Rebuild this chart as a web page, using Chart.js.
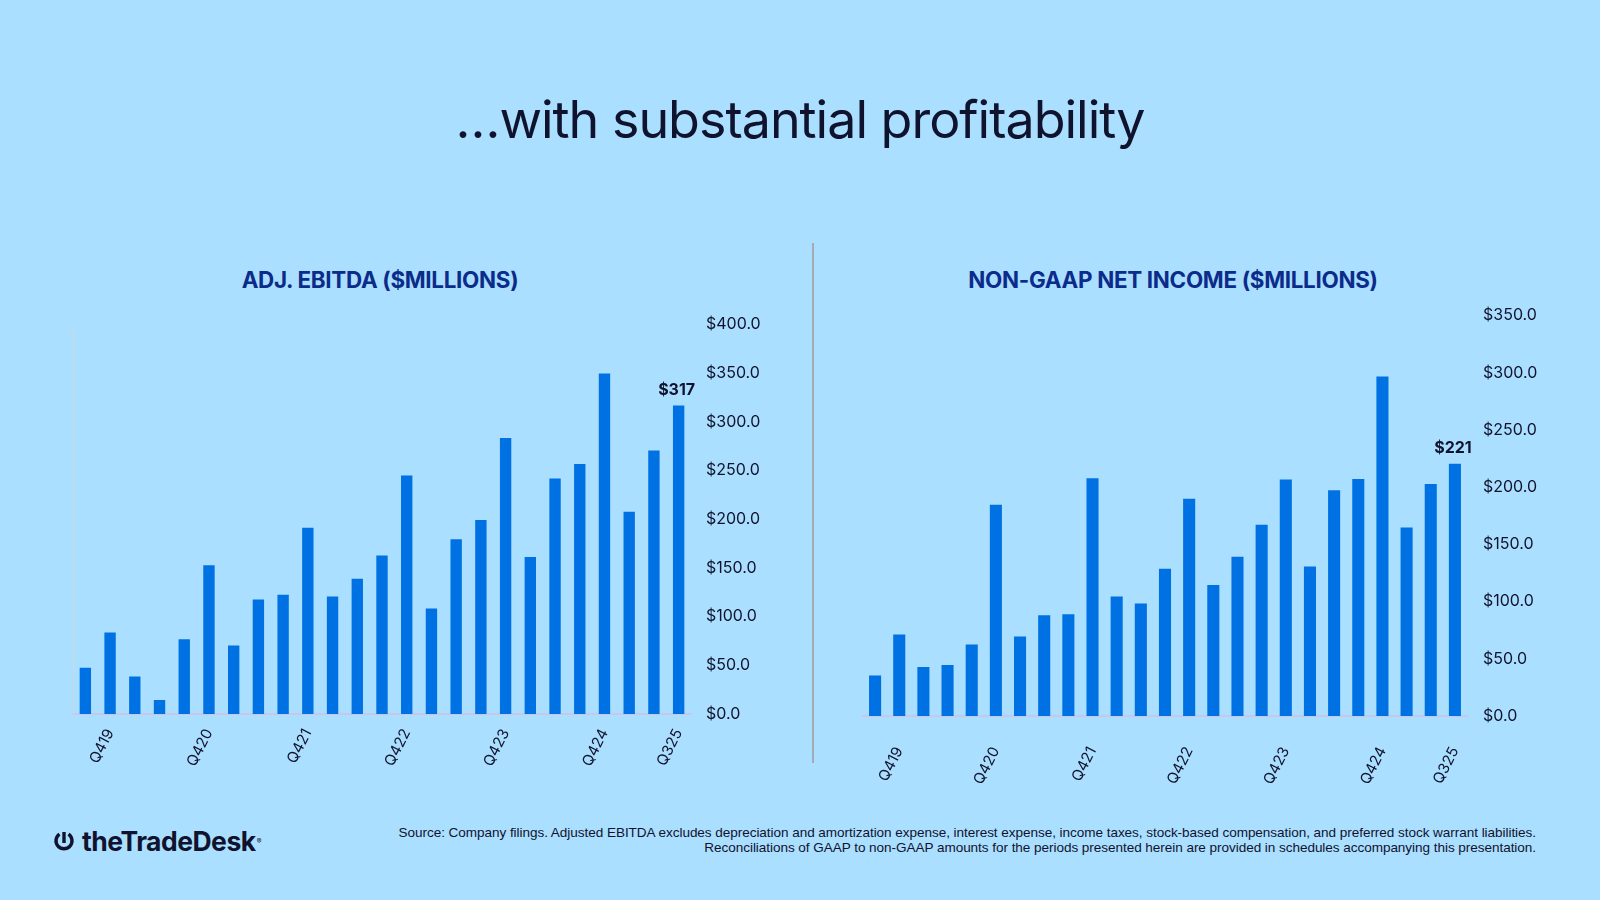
<!DOCTYPE html>
<html>
<head>
<meta charset="utf-8">
<script src="https://cdn.jsdelivr.net/npm/chart.js@4.4.1/dist/chart.umd.min.js"></script>
<style>
  html, body { margin: 0; padding: 0; }
  body { width: 1600px; height: 900px; background: #abdfff; position: relative; overflow: hidden; font-family: Inter, "Noto Sans", sans-serif; }
  .title { position: absolute; left: 0; width: 1600px; top: 88px; text-align: center; font-size: 52px; font-weight: 400; color: #10132e; letter-spacing: -1px; }
  .sub { position: absolute; top: 266px; font-size: 22.4px; font-weight: 700; color: #0b2c8a; text-align: center; width: 600px; letter-spacing: -0.3px; }
  .divider { position: absolute; left: 812px; top: 243px; width: 2px; height: 520px; background: #a3acb6; }
  .wrap { position: absolute; }
  .footer { position: absolute; right: 64px; top: 825px; text-align: right; font-family: "Liberation Sans Narrow", "Liberation Sans", Arial, sans-serif; font-size: 13.55px; line-height: 15px; color: #10132e; letter-spacing: -0.05px; }
  .logo { position: absolute; left: 53px; top: 826px; height: 30px; display: flex; align-items: center; }
  .logo span { font-size: 26.5px; font-weight: 700; color: #10132e; letter-spacing: -0.5px; margin-left: 7px; }
  .logo sup { font-size: 7px; vertical-align: super; margin-left: 1px; color:#10132e; }
</style>
</head>
<body>
<div class="title">…with substantial profitability</div>
<div class="sub" style="left:80px;">ADJ. EBITDA ($MILLIONS)</div>
<div class="sub" style="left:873px;">NON-GAAP NET INCOME ($MILLIONS)</div>
<div class="divider"></div>

<div class="wrap" style="left:0px; top:300px; width:800px; height:500px;"><canvas id="c1"></canvas></div>
<div class="wrap" style="left:800px; top:290px; width:800px; height:510px;"><canvas id="c2"></canvas></div>

<div class="logo">
  <svg width="22" height="22" viewBox="0 0 22 22">
    <path d="M6.5 4.2 A8 8 0 1 0 15.5 4.2" fill="none" stroke="#10132e" stroke-width="3.4"/>
    <line x1="11" y1="2" x2="11" y2="13" stroke="#10132e" stroke-width="3.4"/>
  </svg>
  <span>theTradeDesk</span><sup>®</sup>
</div>

<div class="footer">Source: Company filings. Adjusted EBITDA excludes depreciation and amortization expense, interest expense, income taxes, stock-based compensation, and preferred stock warrant liabilities.<br>Reconciliations of GAAP to non-GAAP amounts for the periods presented herein are provided in schedules accompanying this presentation.</div>

<script>
const quarters = ["Q319","Q419","Q120","Q220","Q320","Q420","Q121","Q221","Q321","Q421","Q122","Q222","Q322","Q422","Q123","Q223","Q323","Q423","Q124","Q224","Q324","Q424","Q125","Q225","Q325"];
const shownLabels = ["Q419","Q420","Q421","Q422","Q423","Q424","Q325"];
const ebitda = [47.4, 83.6, 38.6, 14.3, 76.8, 152.8, 70.3, 117.7, 122.5, 191.4, 120.8, 138.9, 162.7, 245.0, 108.5, 179.5, 199.2, 283.5, 161.4, 241.9, 256.9, 349.7, 207.8, 270.6, 317.0];
const netIncome = [35.4, 71.3, 42.9, 44.6, 62.4, 184.6, 69.6, 88.0, 88.9, 207.9, 104.4, 98.4, 128.8, 189.8, 114.5, 139.2, 167.1, 206.8, 130.6, 197.3, 207.1, 296.8, 164.8, 202.8, 220.6];
const ebitdaLabel = "$317";
const netIncomeLabel = "$221";
const ebitdaMax = 400;
const netIncomeMax = 350;

const textColor = "#10132e";
const barColor = "#0071e3";

const lastLabelPlugin = {
  id: "lastLabel",
  afterDatasetsDraw(chart, args, opts) {
    const meta = chart.getDatasetMeta(0);
    const el = meta.data[meta.data.length - 1];
    const ctx = chart.ctx;
    ctx.save();
    ctx.font = "700 16px Inter, 'Noto Sans', sans-serif";
    ctx.fillStyle = textColor;
    ctx.textAlign = "center";
    ctx.textBaseline = "bottom";
    ctx.fillText(opts.text, el.x - (opts.dx || 0), el.y - 7);
    ctx.restore();
  }
};

function makeChart(id, values, label, max, g) {
  const scales = {
    x: {
      grid: { display: false, drawTicks: false },
      border: { display: true, color: "#c9c6ee", width: 2 },
      ticks: {
        autoSkip: false,
        maxRotation: 63, minRotation: 63,
        padding: g.xPad,
        color: textColor,
        font: { family: "Inter, 'Noto Sans', sans-serif", size: 15 },
        callback: function(v) { const l = this.getLabelForValue(v); return shownLabels.includes(l) ? l : ""; }
      },
      afterFit(s) { s.height = g.xH; }
    },
    y: {
      position: "right",
      min: 0, max: max,
      grid: { display: false, drawTicks: false },
      border: { display: false },
      ticks: {
        stepSize: 50,
        padding: g.yPad,
        color: textColor,
        font: { family: "Inter, 'Noto Sans', sans-serif", size: 16 },
        callback: v => "$" + Number(v).toFixed(1)
      },
      afterFit(s) { s.width = g.yW; }
    }
  };
  if (g.leftLine) {
    scales.y2 = {
      position: "left",
      min: 0, max: max,
      grid: { display: false, drawTicks: false },
      border: { display: true, color: "#cfd6dc", width: 1 },
      ticks: { display: false },
      afterFit(s) { s.width = 0; }
    };
  }
  return new Chart(document.getElementById(id), {
    type: "bar",
    data: {
      labels: quarters,
      datasets: [{ data: values, backgroundColor: barColor, borderWidth: 0, barPercentage: g.barPct, categoryPercentage: 1.0 }]
    },
    options: {
      responsive: true,
      maintainAspectRatio: false,
      animation: false,
      layout: { padding: { left: g.padL, top: g.padT, right: 0, bottom: 0 } },
      plugins: { legend: { display: false }, tooltip: { enabled: false }, lastLabel: { text: label, dx: g.lblDx } },
      scales: scales
    },
    plugins: [lastLabelPlugin]
  });
}

makeChart("c1", ebitda, ebitdaLabel, ebitdaMax, { padL: 73, padT: 20, yW: 109, xH: 86, yPad: 15, xPad: 12, barPct: 0.46, leftLine: true, lblDx: 2 });
makeChart("c2", netIncome, netIncomeLabel, netIncomeMax, { padL: 63, padT: 19, yW: 133, xH: 84, yPad: 16, xPad: 28, barPct: 0.5, leftLine: false, lblDx: 2 });
</script>
</body>
</html>
